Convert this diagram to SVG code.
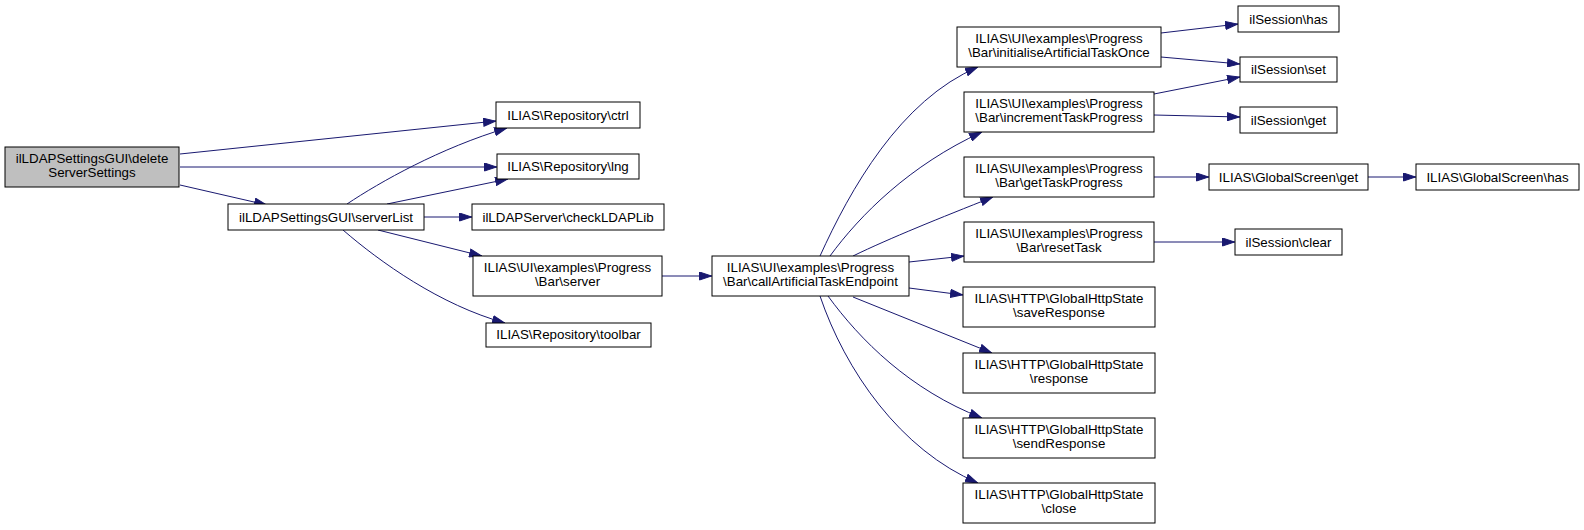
<svg xmlns="http://www.w3.org/2000/svg" width="1584" height="530" viewBox="0 0 1584 530">
<style>
  .node rect { fill: #ffffff; stroke: #000000; stroke-width: 1; }
  .node.root rect { fill: #bfbfbf; }
  .node text { font-family: "Liberation Sans", Arial, Helvetica, sans-serif; font-size: 13.33px; fill: #000000; text-anchor: middle; }
  .edges path { fill: none; stroke: #191970; stroke-width: 1; marker-end: url(#arr); }
</style>
<defs>
  <marker id="arr" viewBox="0 0 13 9" refX="13" refY="4.5" markerWidth="13" markerHeight="9" orient="auto" markerUnits="userSpaceOnUse">
    <path d="M0.5,0.5 L12.5,4.5 L0.5,8.5 z" fill="#191970" stroke="#191970" stroke-width="1"/>
  </marker>
</defs>
<rect x="0" y="0" width="1584" height="530" fill="#ffffff"/>

<g id="edges" class="edges">
  <path d="M180,154 L496,121"/>
  <path d="M180,167 L497,167"/>
  <path d="M180,185 L267,205"/>
  <path d="M347,204 C380,182 440,148 507,128"/>
  <path d="M387,204 L508,179"/>
  <path d="M424,217 L472,217"/>
  <path d="M378,230 L482,256"/>
  <path d="M343,230 C380,262 440,305 505,323"/>
  <path d="M662,276 L712,276"/>
  <path d="M820,256 C850,190 900,100 978,67"/>
  <path d="M830,256 C860,215 910,165 982,132"/>
  <path d="M853,256 C890,238 940,218 993,197"/>
  <path d="M909,262 L964,256"/>
  <path d="M909,288 L963,295"/>
  <path d="M853,297 L992,353"/>
  <path d="M828,296 C860,340 910,390 982,418"/>
  <path d="M820,296 C845,370 900,450 978,483"/>
  <path d="M1161,33 L1238,24"/>
  <path d="M1161,57 L1240,64"/>
  <path d="M1154,94 L1240,77"/>
  <path d="M1154,115 L1240,117"/>
  <path d="M1154,177 L1209,177"/>
  <path d="M1368,177 L1416,177"/>
  <path d="M1154,242 L1235,242"/>
</g>

<g id="node-deleteServerSettings" class="node root">
  <rect x="5" y="147" width="174" height="40"/>
  <text x="92" y="163">ilLDAPSettingsGUI\delete</text>
  <text x="92" y="177">ServerSettings</text>
</g>
<g id="node-serverList" class="node">
  <rect x="228" y="204" width="196" height="26"/>
  <text x="326" y="221.5">ilLDAPSettingsGUI\serverList</text>
</g>
<g id="node-ctrl" class="node">
  <rect x="496" y="102" width="144" height="26"/>
  <text x="568" y="119.5">ILIAS\Repository\ctrl</text>
</g>
<g id="node-lng" class="node">
  <rect x="497" y="154" width="142" height="25"/>
  <text x="568" y="171">ILIAS\Repository\lng</text>
</g>
<g id="node-checkLDAPLib" class="node">
  <rect x="472" y="204" width="192" height="26"/>
  <text x="568" y="221.5">ilLDAPServer\checkLDAPLib</text>
</g>
<g id="node-server" class="node">
  <rect x="473" y="256" width="189" height="40"/>
  <text x="567.5" y="272">ILIAS\UI\examples\Progress</text>
  <text x="567.5" y="286">\Bar\server</text>
</g>
<g id="node-toolbar" class="node">
  <rect x="486" y="323" width="165" height="24"/>
  <text x="568.5" y="339">ILIAS\Repository\toolbar</text>
</g>
<g id="node-callArtificialTaskEndpoint" class="node">
  <rect x="712" y="256" width="197" height="40"/>
  <text x="810.5" y="272">ILIAS\UI\examples\Progress</text>
  <text x="810.5" y="286">\Bar\callArtificialTaskEndpoint</text>
</g>
<g id="node-initialiseArtificialTaskOnce" class="node">
  <rect x="957" y="27" width="204" height="40"/>
  <text x="1059" y="43">ILIAS\UI\examples\Progress</text>
  <text x="1059" y="57">\Bar\initialiseArtificialTaskOnce</text>
</g>
<g id="node-incrementTaskProgress" class="node">
  <rect x="964" y="92" width="190" height="40"/>
  <text x="1059" y="108">ILIAS\UI\examples\Progress</text>
  <text x="1059" y="122">\Bar\incrementTaskProgress</text>
</g>
<g id="node-getTaskProgress" class="node">
  <rect x="964" y="157" width="190" height="40"/>
  <text x="1059" y="173">ILIAS\UI\examples\Progress</text>
  <text x="1059" y="187">\Bar\getTaskProgress</text>
</g>
<g id="node-resetTask" class="node">
  <rect x="964" y="222" width="190" height="40"/>
  <text x="1059" y="238">ILIAS\UI\examples\Progress</text>
  <text x="1059" y="252">\Bar\resetTask</text>
</g>
<g id="node-saveResponse" class="node">
  <rect x="963" y="287" width="192" height="40"/>
  <text x="1059" y="303">ILIAS\HTTP\GlobalHttpState</text>
  <text x="1059" y="317">\saveResponse</text>
</g>
<g id="node-response" class="node">
  <rect x="963" y="353" width="192" height="40"/>
  <text x="1059" y="369">ILIAS\HTTP\GlobalHttpState</text>
  <text x="1059" y="383">\response</text>
</g>
<g id="node-sendResponse" class="node">
  <rect x="963" y="418" width="192" height="40"/>
  <text x="1059" y="434">ILIAS\HTTP\GlobalHttpState</text>
  <text x="1059" y="448">\sendResponse</text>
</g>
<g id="node-close" class="node">
  <rect x="963" y="483" width="192" height="40"/>
  <text x="1059" y="499">ILIAS\HTTP\GlobalHttpState</text>
  <text x="1059" y="513">\close</text>
</g>
<g id="node-ilSession-has" class="node">
  <rect x="1238" y="6" width="101" height="26"/>
  <text x="1288.5" y="23.5">ilSession\has</text>
</g>
<g id="node-ilSession-set" class="node">
  <rect x="1240" y="57" width="97" height="25"/>
  <text x="1288.5" y="74">ilSession\set</text>
</g>
<g id="node-ilSession-get" class="node">
  <rect x="1240" y="107" width="97" height="26"/>
  <text x="1288.5" y="124.5">ilSession\get</text>
</g>
<g id="node-GlobalScreen-get" class="node">
  <rect x="1209" y="164" width="159" height="26"/>
  <text x="1288.5" y="181.5">ILIAS\GlobalScreen\get</text>
</g>
<g id="node-GlobalScreen-has" class="node">
  <rect x="1416" y="164" width="163" height="26"/>
  <text x="1497.5" y="181.5">ILIAS\GlobalScreen\has</text>
</g>
<g id="node-ilSession-clear" class="node">
  <rect x="1235" y="229" width="107" height="26"/>
  <text x="1288.5" y="246.5">ilSession\clear</text>
</g>
</svg>
